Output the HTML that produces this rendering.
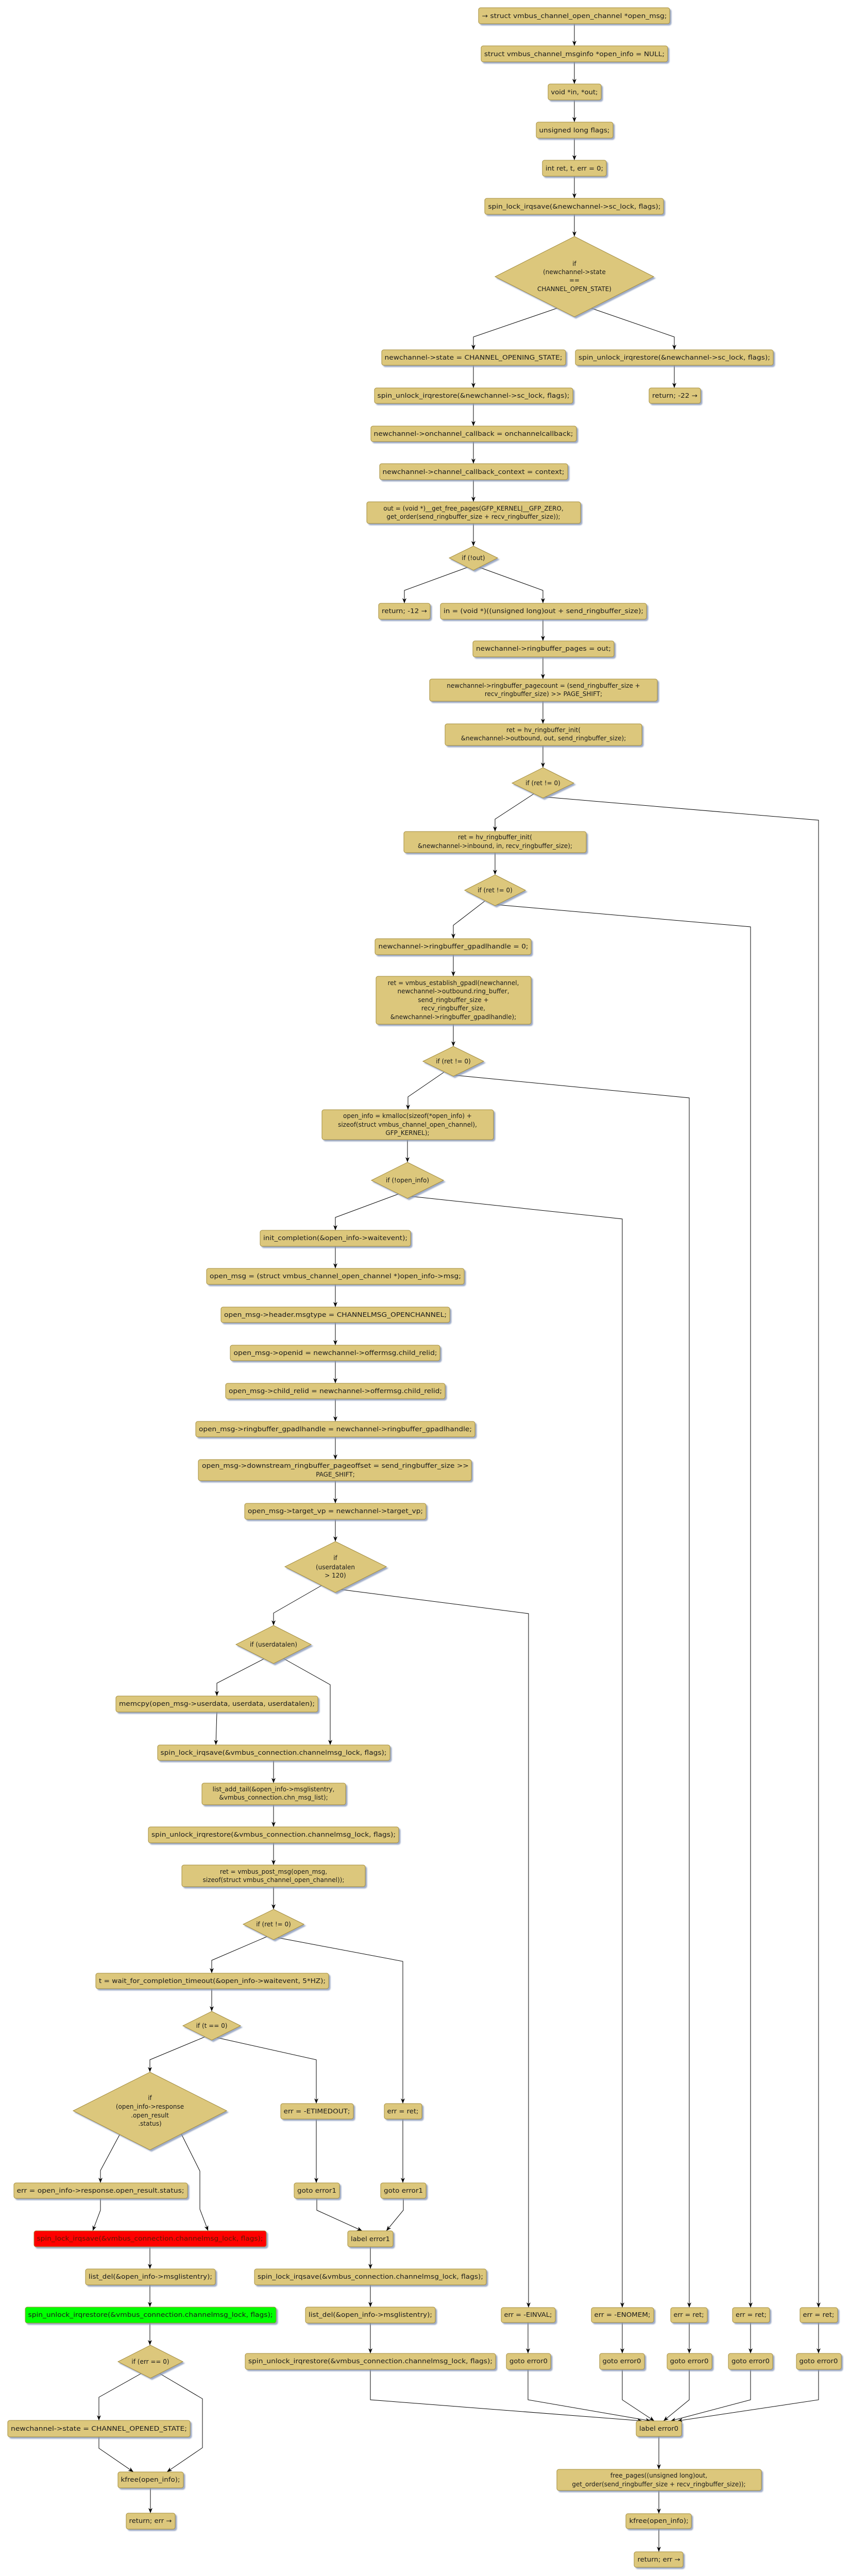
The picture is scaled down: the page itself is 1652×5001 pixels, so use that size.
<!DOCTYPE html>
<html><head><meta charset="utf-8">
<style>
html,body{margin:0;padding:0;background:#fff;width:1652px;height:5001px;overflow:hidden;}
svg{display:block;overflow:hidden;}
.b{fill:#DCC77B;stroke:#A38C3E;stroke-width:1;}
.d{fill:#DCC77B;stroke:#A38C3E;stroke-width:1;}
.r{fill:#FF0000;stroke:#A38C3E;}
.g{fill:#00FF00;stroke:#A38C3E;}
text{font-family:"DejaVu Sans","Liberation Sans",sans-serif;font-size:12px;text-anchor:middle;fill:#1a1a1a;}
.l polyline{fill:none;stroke:#000;stroke-width:1;marker-end:url(#a);}
</style></head><body>
<svg width="1652" height="5001" viewBox="0 0 1652 5001" xmlns="http://www.w3.org/2000/svg">
<defs>
<marker id="a" markerWidth="10" markerHeight="10" refX="10" refY="5" orient="auto" markerUnits="userSpaceOnUse"><path d="M0,1 L10,5 L0,9 L3,5 z" fill="#000"/></marker>
<filter id="sh" x="-5%" y="-20%" width="110%" height="160%"><feDropShadow dx="3" dy="3" stdDeviation="1" flood-color="#8596B8" flood-opacity="0.8"/></filter>
</defs>
<g class="l">
<polyline points="1115,46 1115,89"/><polyline points="1115,120 1115,163"/><polyline points="1115,194 1115,237"/><polyline points="1115,268 1115,311"/><polyline points="1115,342 1115,385"/><polyline points="1115,416 1115,459"/>
<polyline points="1082,598 919,654 919,679"/><polyline points="1147,598 1309,654 1309,679"/>
<polyline points="919,709 919,753"/><polyline points="1309,709 1309,753"/>
<polyline points="919,783 919,827"/><polyline points="919,857 919,900"/><polyline points="919,931 919,974"/><polyline points="919,1016 919,1060"/>
<polyline points="908,1101 785,1146 785,1171"/><polyline points="930,1101 1054,1146 1054,1171"/>
<polyline points="1054,1202 1054,1244"/><polyline points="1054,1275 1054,1318"/><polyline points="1054,1361 1054,1405"/><polyline points="1054,1447 1054,1490"/>
<polyline points="1036,1541 961,1590 961,1614"/><polyline points="1058,1547 1589,1592 1589,4479"/>
<polyline points="961,1655 961,1698"/>
<polyline points="941,1749 880,1796 880,1822"/><polyline points="964,1756 1457,1799 1457,4479"/>
<polyline points="880,1853 880,1895"/><polyline points="880,1988 880,2031"/>
<polyline points="862,2081 792,2129 792,2154"/><polyline points="883,2087 1338,2131 1338,4479"/>
<polyline points="791,2212 791,2256"/>
<polyline points="775,2317 651,2363 651,2388"/><polyline points="797,2322 1208,2366 1208,4479"/>
<polyline points="651,2419 651,2462"/><polyline points="651,2493 651,2537"/><polyline points="651,2567 651,2611"/><polyline points="651,2641 651,2685"/><polyline points="651,2715 651,2759"/><polyline points="651,2789 651,2833"/><polyline points="651,2874 651,2918"/><polyline points="651,2949 651,2992"/>
<polyline points="625,3077 531,3131 531,3155"/><polyline points="660,3085 1026,3132 1026,4479"/>
<polyline points="512,3220 421,3267 421,3292"/><polyline points="550,3219 641,3270 641,3387"/>
<polyline points="421,3323 419,3387"/>
<polyline points="531,3417 531,3461"/><polyline points="531,3503 531,3546"/><polyline points="531,3577 531,3620"/><polyline points="531,3662 531,3706"/>
<polyline points="518,3759 411,3805 411,3830"/><polyline points="539,3761 782,3807 782,4083"/>
<polyline points="411,3860 411,3904"/>
<polyline points="399,3953 291,3998 291,4022"/><polyline points="421,3955 614,3998 614,4083"/>
<polyline points="233,4142 195,4213 195,4237"/><polyline points="352,4142 388,4214 388,4288 404,4330"/>
<polyline points="195,4267 195,4290 180,4330"/>
<polyline points="291,4361 291,4404"/><polyline points="291,4435 291,4478"/><polyline points="291,4509 291,4552"/>
<polyline points="274,4607 192,4653 192,4698"/><polyline points="310,4607 393,4656 393,4751 324,4798"/>
<polyline points="192,4730 192,4752 259,4798"/>
<polyline points="292,4829 292,4878"/>
<polyline points="614,4113 614,4237"/><polyline points="782,4113 782,4237"/>
<polyline points="615,4267 615,4290 703,4330"/><polyline points="783,4267 783,4290 750,4330"/>
<polyline points="719,4361 719,4404"/><polyline points="719,4435 719,4478"/><polyline points="719,4509 719,4568"/>
<polyline points="1025,4508 1025,4568"/><polyline points="1208,4508 1208,4568"/><polyline points="1338,4508 1338,4568"/><polyline points="1457,4508 1457,4568"/><polyline points="1589,4508 1589,4568"/>
<polyline points="719,4599 719,4658 1247,4699"/><polyline points="1025,4599 1025,4658 1263,4699"/><polyline points="1208,4599 1208,4658 1270,4699"/><polyline points="1338,4599 1338,4658 1288,4699"/><polyline points="1457,4599 1457,4658 1302,4699"/><polyline points="1589,4599 1589,4658 1315,4699"/>
<polyline points="1279,4729 1279,4793"/><polyline points="1279,4834 1279,4879"/><polyline points="1279,4908 1279,4953"/>
</g>
<g filter="url(#sh)">
<rect class="b" x="929" y="15" width="371" height="31" rx="4"/>
<rect class="b" x="934" y="89" width="362" height="31" rx="4"/>
<rect class="b" x="1064" y="163" width="103" height="31" rx="4"/>
<rect class="b" x="1041" y="237" width="149" height="31" rx="4"/>
<rect class="b" x="1053" y="311" width="124" height="31" rx="4"/>
<rect class="b" x="941" y="385" width="347" height="31" rx="4"/>
<polygon class="d" points="1115,459 1269,537 1115,615 961,537"/>
<rect class="b" x="741" y="679" width="357" height="30" rx="4"/>
<rect class="b" x="1117" y="679" width="384" height="30" rx="4"/>
<rect class="b" x="727" y="753" width="385" height="30" rx="4"/>
<rect class="b" x="1260" y="753" width="100" height="30" rx="4"/>
<rect class="b" x="720" y="827" width="399" height="30" rx="4"/>
<rect class="b" x="737" y="900" width="365" height="31" rx="4"/>
<rect class="b" x="712" y="974" width="415" height="42" rx="4"/>
<polygon class="d" points="919,1060 966,1083 919,1107 872,1083"/>
<rect class="b" x="735" y="1171" width="100" height="31" rx="4"/>
<rect class="b" x="855" y="1171" width="400" height="31" rx="4"/>
<rect class="b" x="918" y="1244" width="274" height="31" rx="4"/>
<rect class="b" x="834" y="1318" width="442" height="43" rx="4"/>
<rect class="b" x="864" y="1405" width="382" height="42" rx="4"/>
<polygon class="d" points="1054,1490 1114,1520 1054,1549 994,1520"/>
<rect class="b" x="784" y="1614" width="354" height="41" rx="4"/>
<polygon class="d" points="961,1698 1020,1728 961,1758 902,1728"/>
<rect class="b" x="728" y="1822" width="303" height="31" rx="4"/>
<rect class="b" x="730" y="1895" width="301" height="93" rx="4"/>
<polygon class="d" points="880,2031 939,2060 880,2089 821,2060"/>
<rect class="b" x="625" y="2154" width="333" height="58" rx="4"/>
<polygon class="d" points="791,2256 861,2291 791,2326 721,2291"/>
<rect class="b" x="505" y="2388" width="292" height="31" rx="4"/>
<rect class="b" x="401" y="2462" width="500" height="31" rx="4"/>
<rect class="b" x="429" y="2537" width="444" height="30" rx="4"/>
<rect class="b" x="447" y="2611" width="407" height="30" rx="4"/>
<rect class="b" x="438" y="2685" width="426" height="30" rx="4"/>
<rect class="b" x="380" y="2759" width="542" height="30" rx="4"/>
<rect class="b" x="385" y="2833" width="530" height="41" rx="4"/>
<rect class="b" x="475" y="2918" width="352" height="31" rx="4"/>
<polygon class="d" points="651,2992 750,3041 651,3091 553,3041"/>
<polygon class="d" points="531,3155 604,3192 531,3229 458,3192"/>
<rect class="b" x="225" y="3292" width="392" height="31" rx="4"/>
<rect class="b" x="306" y="3387" width="451" height="30" rx="4"/>
<rect class="b" x="392" y="3461" width="279" height="42" rx="4"/>
<rect class="b" x="288" y="3546" width="486" height="31" rx="4"/>
<rect class="b" x="353" y="3620" width="356" height="42" rx="4"/>
<polygon class="d" points="531,3706 590,3735 531,3765 472,3735"/>
<rect class="b" x="186" y="3830" width="452" height="30" rx="4"/>
<polygon class="d" points="411,3904 467,3932 411,3960 355,3932"/>
<polygon class="d" points="291,4022 440,4097 291,4173 142,4097"/>
<rect class="b" x="27" y="4237" width="337" height="30" rx="4"/>
<rect class="r" x="66" y="4330" width="451" height="31" rx="4"/>
<rect class="b" x="166" y="4404" width="252" height="31" rx="4"/>
<rect class="g" x="49" y="4478" width="487" height="31" rx="4"/>
<polygon class="d" points="292,4552 355,4584 292,4616 229,4584"/>
<rect class="b" x="15" y="4698" width="354" height="32" rx="4"/>
<rect class="b" x="229" y="4798" width="127" height="31" rx="4"/>
<rect class="b" x="245" y="4878" width="95" height="31" rx="4"/>
<rect class="b" x="545" y="4083" width="141" height="30" rx="4"/>
<rect class="b" x="746" y="4083" width="73" height="30" rx="4"/>
<rect class="b" x="571" y="4237" width="88" height="30" rx="4"/>
<rect class="b" x="739" y="4237" width="88" height="30" rx="4"/>
<rect class="b" x="675" y="4330" width="88" height="31" rx="4"/>
<rect class="b" x="494" y="4404" width="450" height="31" rx="4"/>
<rect class="b" x="593" y="4478" width="252" height="31" rx="4"/>
<rect class="b" x="476" y="4568" width="486" height="31" rx="4"/>
<rect class="b" x="973" y="4479" width="105" height="29" rx="4"/>
<rect class="b" x="1148" y="4479" width="121" height="29" rx="4"/>
<rect class="b" x="1302" y="4479" width="71" height="29" rx="4"/>
<rect class="b" x="1422" y="4479" width="72" height="29" rx="4"/>
<rect class="b" x="1553" y="4479" width="73" height="29" rx="4"/>
<rect class="b" x="983" y="4568" width="86" height="31" rx="4"/>
<rect class="b" x="1164" y="4568" width="87" height="31" rx="4"/>
<rect class="b" x="1295" y="4568" width="87" height="31" rx="4"/>
<rect class="b" x="1414" y="4568" width="86" height="31" rx="4"/>
<rect class="b" x="1546" y="4568" width="87" height="31" rx="4"/>
<rect class="b" x="1235" y="4699" width="88" height="30" rx="4"/>
<rect class="b" x="1081" y="4793" width="397" height="41" rx="4"/>
<rect class="b" x="1215" y="4879" width="127" height="29" rx="4"/>
<rect class="b" x="1231" y="4953" width="95" height="30" rx="4"/>
</g>
<g>
<text x="1115" y="35" textLength="359" lengthAdjust="spacingAndGlyphs">→ struct vmbus_channel_open_channel *open_msg;</text>
<text x="1115" y="109" textLength="350" lengthAdjust="spacingAndGlyphs">struct vmbus_channel_msginfo *open_info = NULL;</text>
<text x="1115" y="183" textLength="91" lengthAdjust="spacingAndGlyphs">void *in, *out;</text>
<text x="1115" y="257" textLength="137" lengthAdjust="spacingAndGlyphs">unsigned long flags;</text>
<text x="1115" y="331" textLength="112" lengthAdjust="spacingAndGlyphs">int ret, t, err = 0;</text>
<text x="1115" y="405" textLength="335" lengthAdjust="spacingAndGlyphs">spin_lock_irqsave(&amp;newchannel-&gt;sc_lock, flags);</text>
<text x="1115" y="516">if</text>
<text x="1115" y="532">(newchannel-&gt;state</text>
<text x="1115" y="548">==</text>
<text x="1115" y="565">CHANNEL_OPEN_STATE)</text>
<text x="919" y="698" textLength="345" lengthAdjust="spacingAndGlyphs">newchannel-&gt;state = CHANNEL_OPENING_STATE;</text>
<text x="1309" y="698" textLength="372" lengthAdjust="spacingAndGlyphs">spin_unlock_irqrestore(&amp;newchannel-&gt;sc_lock, flags);</text>
<text x="919" y="772" textLength="373" lengthAdjust="spacingAndGlyphs">spin_unlock_irqrestore(&amp;newchannel-&gt;sc_lock, flags);</text>
<text x="1310" y="772" textLength="88" lengthAdjust="spacingAndGlyphs">return; -22 →</text>
<text x="919" y="846" textLength="387" lengthAdjust="spacingAndGlyphs">newchannel-&gt;onchannel_callback = onchannelcallback;</text>
<text x="919" y="920" textLength="353" lengthAdjust="spacingAndGlyphs">newchannel-&gt;channel_callback_context = context;</text>
<text x="919" y="991">out = (void *)__get_free_pages(GFP_KERNEL|__GFP_ZERO,</text>
<text x="919" y="1007">get_order(send_ringbuffer_size + recv_ringbuffer_size));</text>
<text x="919" y="1087">if (!out)</text>
<text x="785" y="1190" textLength="88" lengthAdjust="spacingAndGlyphs">return; -12 →</text>
<text x="1055" y="1190" textLength="388" lengthAdjust="spacingAndGlyphs">in = (void *)((unsigned long)out + send_ringbuffer_size);</text>
<text x="1055" y="1263" textLength="262" lengthAdjust="spacingAndGlyphs">newchannel-&gt;ringbuffer_pages = out;</text>
<text x="1055" y="1335">newchannel-&gt;ringbuffer_pagecount = (send_ringbuffer_size +</text>
<text x="1055" y="1351">recv_ringbuffer_size) &gt;&gt; PAGE_SHIFT;</text>
<text x="1055" y="1421">ret = hv_ringbuffer_init(</text>
<text x="1055" y="1437">&amp;newchannel-&gt;outbound, out, send_ringbuffer_size);</text>
<text x="1054" y="1524">if (ret != 0)</text>
<text x="961" y="1629">ret = hv_ringbuffer_init(</text>
<text x="961" y="1646">&amp;newchannel-&gt;inbound, in, recv_ringbuffer_size);</text>
<text x="961" y="1732">if (ret != 0)</text>
<text x="880" y="1841" textLength="291" lengthAdjust="spacingAndGlyphs">newchannel-&gt;ringbuffer_gpadlhandle = 0;</text>
<text x="880" y="1912">ret = vmbus_establish_gpadl(newchannel,</text>
<text x="880" y="1928">newchannel-&gt;outbound.ring_buffer,</text>
<text x="880" y="1945">send_ringbuffer_size +</text>
<text x="880" y="1961">recv_ringbuffer_size,</text>
<text x="880" y="1978">&amp;newchannel-&gt;ringbuffer_gpadlhandle);</text>
<text x="880" y="2064">if (ret != 0)</text>
<text x="791" y="2170">open_info = kmalloc(sizeof(*open_info) +</text>
<text x="791" y="2187">sizeof(struct vmbus_channel_open_channel),</text>
<text x="791" y="2203">GFP_KERNEL);</text>
<text x="791" y="2295">if (!open_info)</text>
<text x="651" y="2407" textLength="280" lengthAdjust="spacingAndGlyphs">init_completion(&amp;open_info-&gt;waitevent);</text>
<text x="651" y="2481" textLength="488" lengthAdjust="spacingAndGlyphs">open_msg = (struct vmbus_channel_open_channel *)open_info-&gt;msg;</text>
<text x="651" y="2556" textLength="432" lengthAdjust="spacingAndGlyphs">open_msg-&gt;header.msgtype = CHANNELMSG_OPENCHANNEL;</text>
<text x="651" y="2630" textLength="395" lengthAdjust="spacingAndGlyphs">open_msg-&gt;openid = newchannel-&gt;offermsg.child_relid;</text>
<text x="651" y="2704" textLength="414" lengthAdjust="spacingAndGlyphs">open_msg-&gt;child_relid = newchannel-&gt;offermsg.child_relid;</text>
<text x="651" y="2778" textLength="530" lengthAdjust="spacingAndGlyphs">open_msg-&gt;ringbuffer_gpadlhandle = newchannel-&gt;ringbuffer_gpadlhandle;</text>
<text x="651" y="2849" textLength="518" lengthAdjust="spacingAndGlyphs">open_msg-&gt;downstream_ringbuffer_pageoffset = send_ringbuffer_size &gt;&gt;</text>
<text x="651" y="2866">PAGE_SHIFT;</text>
<text x="651" y="2937" textLength="340" lengthAdjust="spacingAndGlyphs">open_msg-&gt;target_vp = newchannel-&gt;target_vp;</text>
<text x="651" y="3028">if</text>
<text x="651" y="3046">(userdatalen</text>
<text x="651" y="3062">&gt; 120)</text>
<text x="531" y="3196">if (userdatalen)</text>
<text x="421" y="3311" textLength="380" lengthAdjust="spacingAndGlyphs">memcpy(open_msg-&gt;userdata, userdata, userdatalen);</text>
<text x="531" y="3406" textLength="439" lengthAdjust="spacingAndGlyphs">spin_lock_irqsave(&amp;vmbus_connection.channelmsg_lock, flags);</text>
<text x="531" y="3477">list_add_tail(&amp;open_info-&gt;msglistentry,</text>
<text x="531" y="3493">&amp;vmbus_connection.chn_msg_list);</text>
<text x="531" y="3565" textLength="474" lengthAdjust="spacingAndGlyphs">spin_unlock_irqrestore(&amp;vmbus_connection.channelmsg_lock, flags);</text>
<text x="531" y="3637">ret = vmbus_post_msg(open_msg,</text>
<text x="531" y="3653">sizeof(struct vmbus_channel_open_channel));</text>
<text x="531" y="3739">if (ret != 0)</text>
<text x="412" y="3849" textLength="440" lengthAdjust="spacingAndGlyphs">t = wait_for_completion_timeout(&amp;open_info-&gt;waitevent, 5*HZ);</text>
<text x="411" y="3936">if (t == 0)</text>
<text x="291" y="4076">if</text>
<text x="291" y="4093">(open_info-&gt;response</text>
<text x="291" y="4110">.open_result</text>
<text x="291" y="4126">.status)</text>
<text x="195" y="4256" textLength="325" lengthAdjust="spacingAndGlyphs">err = open_info-&gt;response.open_result.status;</text>
<text x="291" y="4349" textLength="439" lengthAdjust="spacingAndGlyphs" style="fill:#5a1a00">spin_lock_irqsave(&amp;vmbus_connection.channelmsg_lock, flags);</text>
<text x="292" y="4423" textLength="240" lengthAdjust="spacingAndGlyphs">list_del(&amp;open_info-&gt;msglistentry);</text>
<text x="292" y="4497" textLength="475" lengthAdjust="spacingAndGlyphs">spin_unlock_irqrestore(&amp;vmbus_connection.channelmsg_lock, flags);</text>
<text x="292" y="4588">if (err == 0)</text>
<text x="192" y="4718" textLength="342" lengthAdjust="spacingAndGlyphs">newchannel-&gt;state = CHANNEL_OPENED_STATE;</text>
<text x="292" y="4817" textLength="115" lengthAdjust="spacingAndGlyphs">kfree(open_info);</text>
<text x="292" y="4897" textLength="83" lengthAdjust="spacingAndGlyphs">return; err →</text>
<text x="615" y="4102" textLength="129" lengthAdjust="spacingAndGlyphs">err = -ETIMEDOUT;</text>
<text x="782" y="4102" textLength="61" lengthAdjust="spacingAndGlyphs">err = ret;</text>
<text x="615" y="4256" textLength="76" lengthAdjust="spacingAndGlyphs">goto error1</text>
<text x="783" y="4256" textLength="76" lengthAdjust="spacingAndGlyphs">goto error1</text>
<text x="719" y="4350" textLength="76" lengthAdjust="spacingAndGlyphs">label error1</text>
<text x="719" y="4423" textLength="438" lengthAdjust="spacingAndGlyphs">spin_lock_irqsave(&amp;vmbus_connection.channelmsg_lock, flags);</text>
<text x="719" y="4497" textLength="240" lengthAdjust="spacingAndGlyphs">list_del(&amp;open_info-&gt;msglistentry);</text>
<text x="719" y="4587" textLength="474" lengthAdjust="spacingAndGlyphs">spin_unlock_irqrestore(&amp;vmbus_connection.channelmsg_lock, flags);</text>
<text x="1025" y="4497" textLength="93" lengthAdjust="spacingAndGlyphs">err = -EINVAL;</text>
<text x="1208" y="4497" textLength="109" lengthAdjust="spacingAndGlyphs">err = -ENOMEM;</text>
<text x="1337" y="4497" textLength="59" lengthAdjust="spacingAndGlyphs">err = ret;</text>
<text x="1458" y="4497" textLength="60" lengthAdjust="spacingAndGlyphs">err = ret;</text>
<text x="1589" y="4497" textLength="61" lengthAdjust="spacingAndGlyphs">err = ret;</text>
<text x="1026" y="4587" textLength="74" lengthAdjust="spacingAndGlyphs">goto error0</text>
<text x="1207" y="4587" textLength="75" lengthAdjust="spacingAndGlyphs">goto error0</text>
<text x="1338" y="4587" textLength="75" lengthAdjust="spacingAndGlyphs">goto error0</text>
<text x="1457" y="4587" textLength="74" lengthAdjust="spacingAndGlyphs">goto error0</text>
<text x="1589" y="4587" textLength="75" lengthAdjust="spacingAndGlyphs">goto error0</text>
<text x="1279" y="4718" textLength="76" lengthAdjust="spacingAndGlyphs">label error0</text>
<text x="1279" y="4809">free_pages((unsigned long)out,</text>
<text x="1279" y="4826">get_order(send_ringbuffer_size + recv_ringbuffer_size));</text>
<text x="1279" y="4897" textLength="115" lengthAdjust="spacingAndGlyphs">kfree(open_info);</text>
<text x="1279" y="4972" textLength="83" lengthAdjust="spacingAndGlyphs">return; err →</text>
</g>
</svg>
</body></html>
